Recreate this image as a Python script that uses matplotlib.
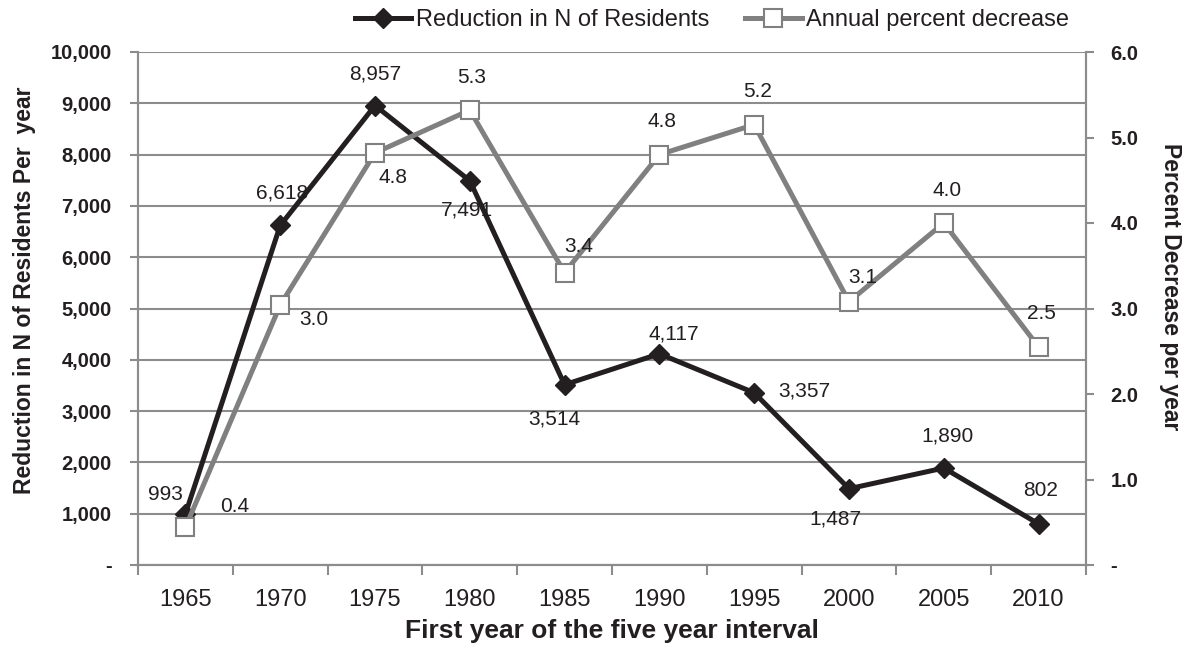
import matplotlib.pyplot as plt
import matplotlib.ticker as mticker
import numpy as np

# Данные с графика
years = ['1965', '1970', '1975', '1980', '1985', '1990', '1995', '2000', '2005', '2010']
reduction = [993, 6618, 8957, 7491, 3514, 4117, 3357, 1487, 1890, 802]
pct_decrease = [0.44, 3.04, 4.82, 5.32, 3.42, 4.80, 5.15, 3.08, 4.00, 2.55]

# смещения подписей (пиксели) – как в исходной диаграмме
red_offsets = [(-20, 20), (2, 32), (0, 32), (-3, -29), (-10, -34),
               (14, 20), (50, 2), (-14, -30), (4, 32), (2, 33)]
pct_offsets = [(49, 21), (34, -14), (18, -25), (2, 33), (14, 26),
               (3, 33), (3, 33), (14, 24), (3, 32), (3, 33)]

BLACK = '#231F20'
GRAY = '#808080'
GRID = '#8C8C8C'

plt.rcParams['font.family'] = ['Liberation Sans', 'DejaVu Sans']

fig = plt.figure(figsize=(11.84, 6.54), dpi=100)
ax = fig.add_axes([138 / 1184, 1 - 565 / 654, (1086 - 138) / 1184, (565 - 52) / 654])
ax2 = ax.twinx()

x = np.arange(len(years))

ax.plot(x, reduction, '-', color=BLACK, linewidth=3.6, marker='D', markersize=10.5,
        markerfacecolor=BLACK, markeredgecolor=BLACK, label='Reduction in N of Residents',
        zorder=3)
ax2.plot(x, pct_decrease, '-', color=GRAY, linewidth=3.6, marker='s', markersize=13,
         markerfacecolor='white', markeredgecolor=GRAY, markeredgewidth=1.5,
         label='Annual percent decrease', zorder=3)

for xi, v, (dx, dy) in zip(x, reduction, red_offsets):
    ax.annotate(f'{v:,}', (xi, v), xytext=(dx, dy), textcoords='offset pixels',
                ha='center', va='center', fontsize=15, color=BLACK, zorder=5)
for xi, v, (dx, dy) in zip(x, pct_decrease, pct_offsets):
    ax2.annotate(f'{v:.1f}', (xi, v), xytext=(dx, dy), textcoords='offset pixels',
                 ha='center', va='center', fontsize=15, color=BLACK, zorder=5)

# оси
ax.set_xlim(-0.5, len(years) - 0.5)
ax.set_ylim(0, 10000)
ax2.set_ylim(0, 6)
ax.set_yticks(np.arange(0, 10001, 1000))
ax2.set_yticks(np.arange(0, 6.01, 1))
ax.yaxis.set_major_formatter(mticker.FuncFormatter(lambda v, p: '-' if v == 0 else f'{v:,.0f}'))
ax2.yaxis.set_major_formatter(mticker.FuncFormatter(lambda v, p: '-' if v == 0 else f'{v:.1f}'))

ax.set_xticks(np.arange(-0.5, len(years)), [])
ax.set_xticks(x, years, minor=True)
ax.tick_params(axis='x', which='major', length=7, width=1.5, color=GRID, direction='out')
ax.tick_params(axis='x', which='minor', length=0, pad=17, labelsize=17, labelcolor=BLACK)

ax.tick_params(axis='y', length=6, width=1.5, color=GRID, pad=13, labelsize=14.5, labelcolor=BLACK)
ax2.tick_params(axis='y', length=6, width=1.5, color=GRID, pad=11.5, labelsize=14.5, labelcolor=BLACK)
for lbl in ax.get_yticklabels() + ax2.get_yticklabels():
    lbl.set_fontweight('bold')

ax.grid(axis='y', color=GRID, linewidth=1.5)
ax.set_axisbelow(True)
for a in (ax, ax2):
    a.spines['top'].set_visible(False)
    for s in ('left', 'right', 'bottom'):
        a.spines[s].set_color(GRID)
        a.spines[s].set_linewidth(1.5)

ax.set_xlabel('First year of the five year interval', fontsize=19, fontweight='bold', color=BLACK)
ax.xaxis.set_label_coords(0.5, -0.106)
ax.set_ylabel('Reduction in N of Residents Per  year', fontsize=16.5, fontweight='bold', color=BLACK)
ax.yaxis.set_label_coords(-0.108, 0.536)
ax2.set_ylabel('Percent Decrease per year', fontsize=16.5, fontweight='bold', color=BLACK,
               rotation=270, va='bottom')
ax2.yaxis.set_label_coords(1.077, 0.542)

h1, l1 = ax.get_legend_handles_labels()
h2, l2 = ax2.get_legend_handles_labels()
leg = fig.legend(h1 + h2, l1 + l2, loc='center', bbox_to_anchor=(712 / 1184, 1 - 20 / 654),
                 ncol=2, frameon=False, handlelength=2.4, columnspacing=1.5, handletextpad=0.2,
                 borderaxespad=0, borderpad=0, prop={'size': 17})
for t in leg.get_texts():
    t.set_color(BLACK)

fig.savefig('out.png', dpi=100)
